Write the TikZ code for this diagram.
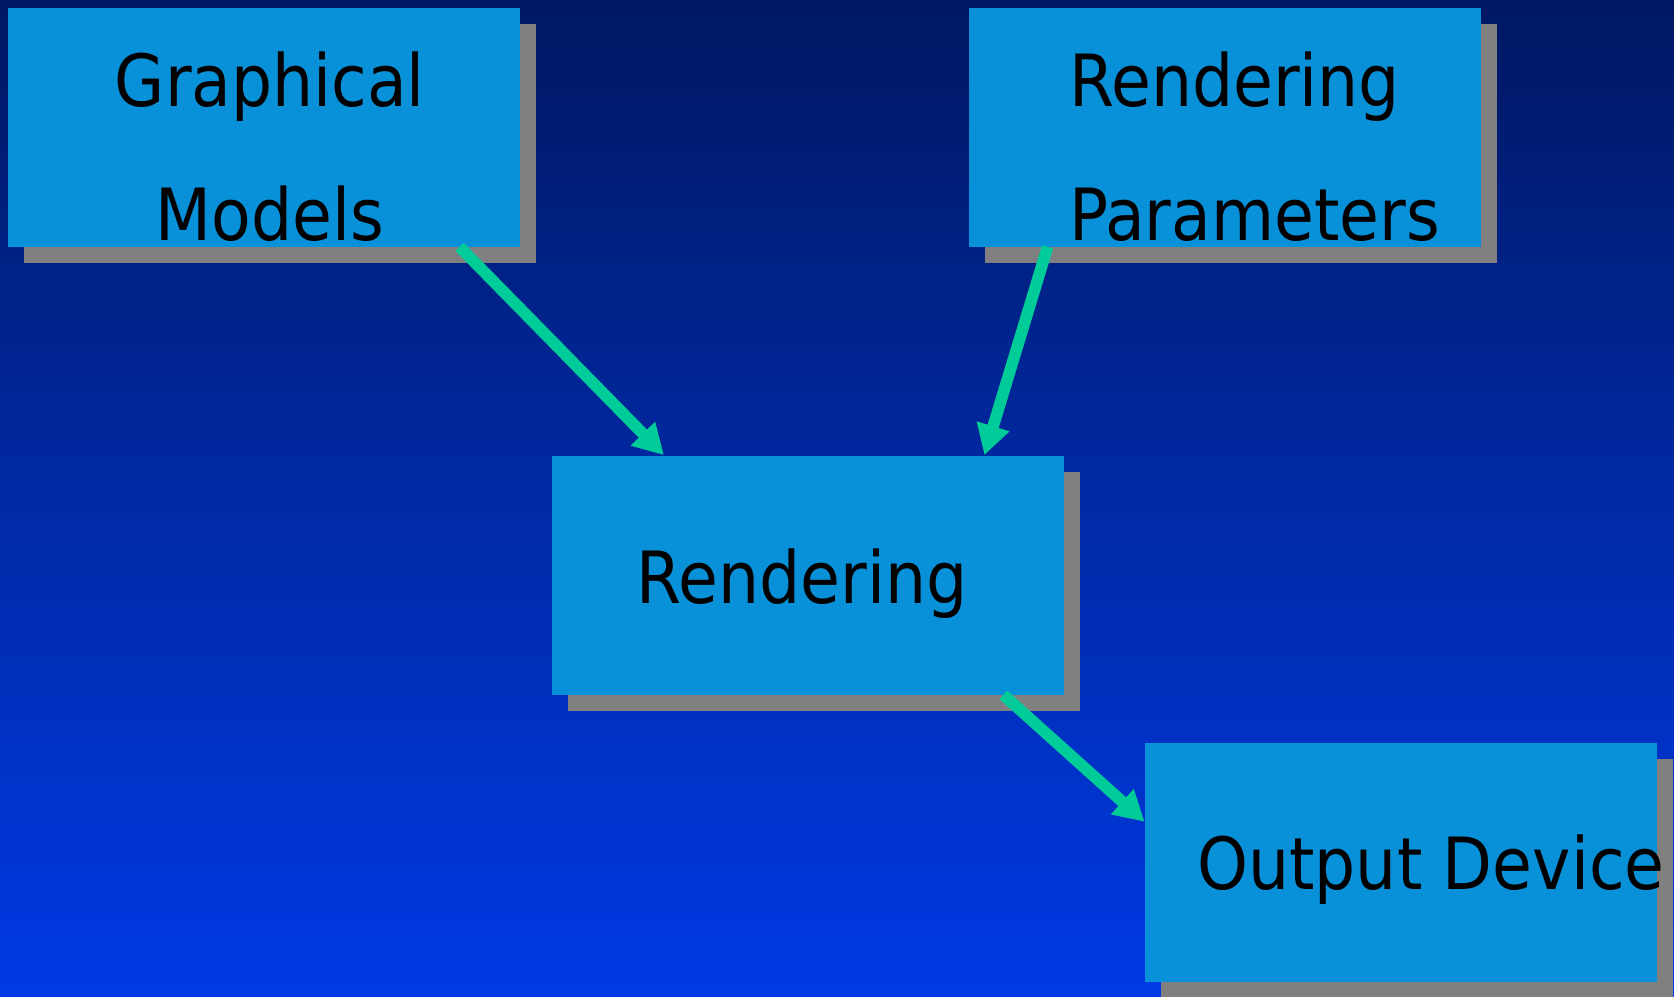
\documentclass[tikz,border=0pt]{standalone}
\usepackage{fontspec}
\setmainfont{DejaVu Sans Condensed}
\usetikzlibrary{arrows.meta,calc,shadows}

\definecolor{bgtop}{RGB}{0,24,98}
\definecolor{bgbot}{RGB}{0,58,230}
\definecolor{boxblue}{RGB}{8,144,216}
\definecolor{shadowgray}{RGB}{128,128,128}
\definecolor{arrowgreen}{RGB}{0,204,153}

\tikzset{
  stage/.style={fill=boxblue, draw=none, minimum width=256pt, minimum height=119.5pt,
    inner sep=0pt, general shadow={fill=shadowgray, shadow xshift=8pt, shadow yshift=-8pt}},
  lbl/.style={inner sep=0pt, font=\fontsize{36}{43}\selectfont, text=black},
  flow/.style={draw=arrowgreen, line width=5.8pt, -{Triangle[width=16pt,length=15pt]}},
}

\begin{document}
\begin{tikzpicture}[x=0.5pt,y=-0.5pt]
%background
\shade[top color=bgtop, bottom color=bgbot] (0,0) rectangle (1674,996);
\useasboundingbox (0,0) rectangle (1674,996);

%boxes
\node[stage] (gm) at (264.25,127) {};
\node[stage] (rp) at (1225,127) {};
\node[stage] (rn) at (808,575) {};
\node[stage] (od) at (1401,862.5) {};

%labels
\node[lbl, anchor=base] (gm1) at (270,106) {Graphical};
\node[lbl, anchor=base] (gm2) at (270,240) {Models};
\node[lbl, anchor=base west] (rp1) at (1069,106) {Rendering};
\node[lbl, anchor=base west] (rp2) at (1069,240) {Parameters};
\node[lbl, anchor=base] (rn1) at (802,603) {Rendering};
\node[lbl, anchor=base west] (od1) at (1197,889) {Output Device};

%connectors
\coordinate (a1) at ($(gm.south west)!0.881!(gm.south east)$);
\coordinate (b1) at ($(rn.north west)!0.219!(rn.north east)$);
\coordinate (a2) at ($(rp.south west)!0.154!(rp.south east)$);
\coordinate (b2) at ($(rn.north west)!0.844!(rn.north east)$);
\coordinate (a3) at ($(rn.south west)!0.881!(rn.south east)$);
\coordinate (b3) at ($(od.north west)!0.33!(od.south west)$);
\draw[flow] (a1) -- (b1);
\draw[flow] (a2) -- (b2);
\draw[flow] (a3) -- (b3);

\end{tikzpicture}
\end{document}
